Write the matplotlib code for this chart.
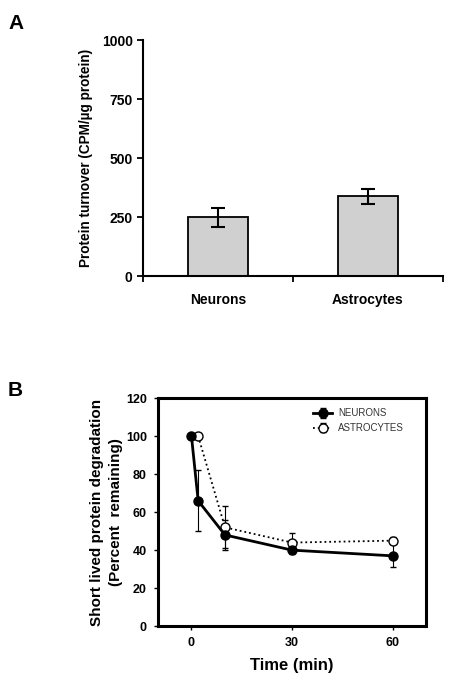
import numpy as np
import matplotlib
matplotlib.use("Agg")
import matplotlib.pyplot as plt

plt.rcParams['font.family'] = ['Liberation Sans', 'DejaVu Sans']

#-----data panel A-----#
cells = ["Neurons", "Astrocytes"]
turnover = [250, 338]
turnover_err = [40, 32]

#-----data panel B-----#
t_neur = [0, 2, 10, 30, 60]
neur = [100, 66, 48, 40, 37]
neur_err = [0, 16, 8, 2, 6]
t_astro = [2, 10, 30, 60]
astro = [100, 52, 44, 45]
astro_err = [0, 11, 5, 2]

fig = plt.figure(figsize=(4.5, 6.82), dpi=100)

#-----panel A-----#
axA = fig.add_axes([0.318, 0.595, 0.666, 0.346])
pos = np.arange(len(cells)) + 0.5
axA.bar(pos, turnover, width=0.4, color="#d0d0d0", edgecolor="black", linewidth=1.3,
        yerr=turnover_err, error_kw=dict(ecolor="black", elinewidth=1.5, capsize=5, capthick=1.5))
axA.set_xlim(0, 2)
axA.set_ylim(0, 1000)
axA.set_yticks([0, 250, 500, 750, 1000])
axA.set_xticks([0, 1, 2])
axA.set_xticklabels([])
axA.set_xticks(pos, minor=True)
axA.set_xticklabels(cells, minor=True, fontweight="bold", fontsize=10)
axA.tick_params(axis="x", which="minor", length=0, pad=12)
axA.tick_params(axis="x", which="major", length=4, width=1.3, direction="out")
axA.tick_params(axis="y", length=4, width=1.3, labelsize=10)
for lab in axA.get_yticklabels():
    lab.set_fontweight("bold")
axA.spines["top"].set_visible(False)
axA.spines["right"].set_visible(False)
axA.spines["left"].set_linewidth(1.5)
axA.spines["bottom"].set_linewidth(1.5)
axA.set_ylabel("Protein turnover (CPM/µg protein)", fontweight="bold", fontsize=9.8, labelpad=6)

#-----panel B-----#
axB = fig.add_axes([0.351, 0.082, 0.596, 0.334])
axB.errorbar(t_astro, astro, yerr=astro_err, color="black", linestyle=":", linewidth=1.3,
             marker="o", markersize=6.5, markerfacecolor="white", markeredgecolor="black",
             elinewidth=0.8, capsize=2.5, label="ASTROCYTES")
axB.errorbar(t_neur, neur, yerr=neur_err, color="black", linestyle="-", linewidth=2,
             marker="o", markersize=6.5, markerfacecolor="black",
             elinewidth=0.8, capsize=2.5, label="NEURONS")
axB.set_xlim(-10, 70)
axB.set_ylim(0, 120)
axB.set_xticks([0, 30, 60])
axB.set_yticks(np.arange(0, 121, 20))
axB.tick_params(length=3, width=1, labelsize=9, pad=5)
for lab in axB.get_xticklabels() + axB.get_yticklabels():
    lab.set_fontweight("bold")
for s in axB.spines.values():
    s.set_linewidth(2.2)
axB.set_xlabel("Time (min)", fontweight="bold", fontsize=12, labelpad=6)
axB.set_ylabel("Short lived protein degradation\n(Percent  remaining)", fontweight="bold",
               fontsize=11, labelpad=2, linespacing=1.5)
h, l = axB.get_legend_handles_labels()
leg = axB.legend(h[::-1], l[::-1], loc="upper right", bbox_to_anchor=(0.95, 0.995), frameon=False,
                 fontsize=7, handlelength=2, labelspacing=0.5, handletextpad=0.6)
for txt in leg.get_texts():
    txt.set_color("#333333")

fig.text(0.018, 0.965, "A", fontsize=15, fontweight="bold", va="center")
fig.text(0.018, 0.428, "B", fontsize=15, fontweight="bold", va="center")

fig.savefig("out.png", dpi=100)
